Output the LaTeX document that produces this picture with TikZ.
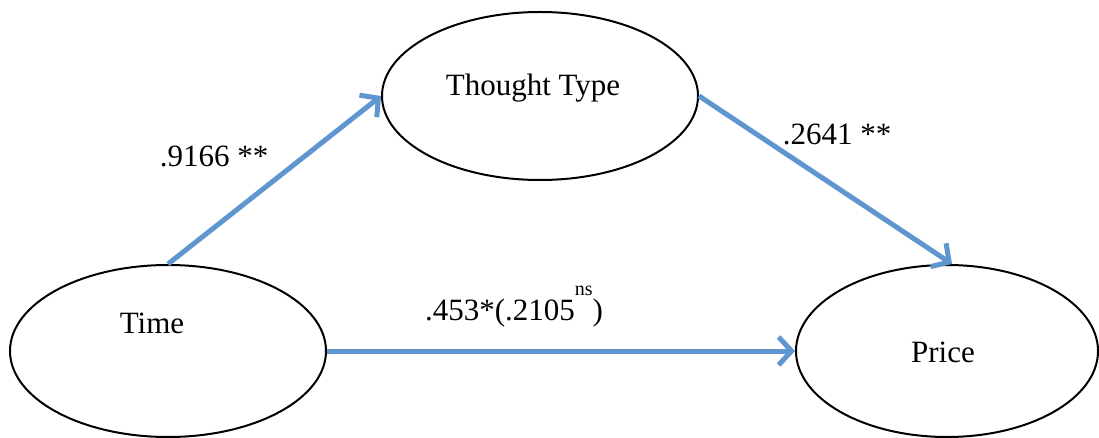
\documentclass[tikz,border=0pt]{standalone}
\usepackage{fontspec}
\setmainfont{Liberation Serif}
\usetikzlibrary{shapes.geometric,arrows.meta}
\definecolor{arrowblue}{RGB}{95,150,208}
\tikzset{
  oval/.style={draw=black, line width=2pt, ellipse, fill=white, inner sep=0pt},
  txt/.style={font=\fontsize{31}{36}\selectfont, inner sep=0pt, anchor=base},
  link/.style={draw=arrowblue, line width=5pt, -{Straight Barb[length=13pt,width=28pt,line width=5pt]}},
}
\begin{document}
\begin{tikzpicture}[x=1pt,y=-1pt]
\useasboundingbox (0,0) rectangle (1099,438);
\fill[white] (0,0) rectangle (1099,438);
% ellipses
\node[oval, minimum width=316pt, minimum height=168pt] (thought) at (540,96) {};
\node[oval, minimum width=316pt, minimum height=172pt] (time) at (168,351) {};
\node[oval, minimum width=302pt, minimum height=172pt] (price) at (947,351) {};
% texts
\node[txt] (thoughtT) at (533,96) {Thought Type};
\node[txt] (timeT) at (152,333) {Time};
\node[txt] (priceT) at (943,362) {Price};
% connectors
\draw[link] (time.north) -- (thought.west);
\draw[link] (thought.east) -- ([xshift=5pt]price.north);
\draw[link] (time.east) -- (price.west);
% labels
\node[txt] (l1) at (214,167) {.9166 **};
\node[txt] (l2) at (837,145) {.2641 **};
\node[txt] (l3) at (514,320) {.453*(.2105\raisebox{25pt}{\fontsize{20}{20}\selectfont ns})};
\end{tikzpicture}
\end{document}
